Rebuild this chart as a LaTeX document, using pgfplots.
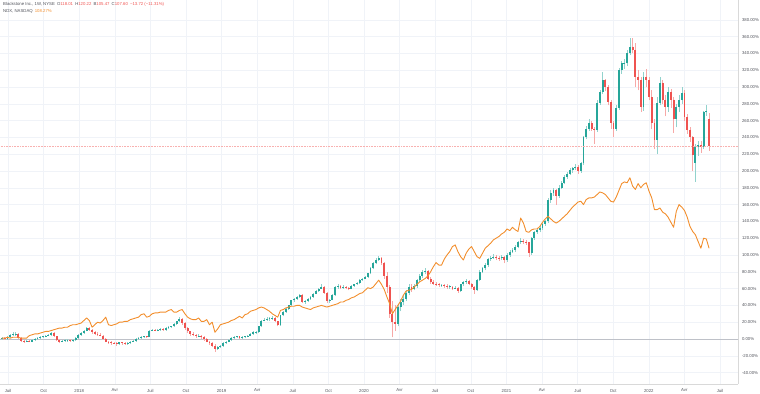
\documentclass[border=0pt]{standalone}
\usepackage{fontspec}
\setmainfont{Liberation Sans}
\usepackage{pgfplots}
\usepackage{pgfplotstable}
\pgfplotsset{compat=1.18}
\definecolor{up}{RGB}{38,166,154}
\definecolor{down}{RGB}{239,83,80}
\definecolor{ndx}{RGB}{242,142,44}
\definecolor{gridc}{RGB}{240,243,248}
\definecolor{labc}{RGB}{80,82,90}
\definecolor{zeroc}{RGB}{190,193,200}

% Blackstone weekly candles (percent vs start) and NDX weekly (percent)
\pgfplotstableread{
o h l c n
0 2 -1 1 1
1 2 -1 0 1
0 3 -1 2 2
2 6 1 5 1
5 8 4 6 2
6 8 4 6.5 2
6 7 0 1 2
1 2 -3 -2 1
-2 -1 -5 -3 1
-3 -1 -4 -2 1
-2 -1 -4 -3 4
-3 0 -4 -1 5
-1 1 -2 0 6
0 2 -1 1 6
1 3 0 2 7
2 4 1 3 8
3 5 2 4 9
4 6 3 5 9
5 8 4 7 10
7 8 2 3 11
3 4 -2 -1 12
-1 0 -5 -3 13
-3 -1 -4 -2 13
-2 0 -3 -1.5 14
-2 0 -3 -1 14
-1 0 -3 -2 16
-2 0 -3 -1 17
-1 2 -2 1 17
1 6 0 5 18
5 8 4 7 19
7 11 6 10 22
10 14 9 13 25
13 14 10 11 22
11 12 6 8 14
8 10 5 6 17
6 8 4 5 20
5 7 3 4 19
4 5 -1 0 22
0 1 -4 -3 26
-3 -2 -6 -4 17
-4 -2 -7 -5 16
-5 -3 -6 -5.5 17
-5 -4 -8 -6 18
-6 -3 -7 -4 20
-4 -3 -7 -5 20
-5 -4 -7 -6 21
-6 -4 -7 -5 21
-5 -2 -6 -3 23
-3 -1 -4 -2 24
-2 1 -3 0 25
0 2 -1 1 26
1 3 0 2 29
2 4 1 3 30
3 4 1 2 26
2 11 2 10 27
10 12 9 11 30
11 12 9 10 31
10 12 9 11 31
11 13 10 12 32
12 13 10 11 32
11 14 10 13 32
13 15 12 14 34
14 16 13 15 35
15 19 14 18 32
18 22 17 21 32
21 26 20 24 34
24 25 17 19 35
19 20 11 13 30
13 14 7 9 26
9 10 4 6 24
6 8 3 5 23
5 6 1 3 23
3 6 2 4 25
4 5 0 2 21
2 3 -2 0 21
0 1 -4 -3 23
-3 -2 -7 -5 17
-5 -4 -10 -8 20
-8 -6 -15 -12 8
-12 -8 -13 -10 12
-10 -7 -11 -8 17
-8 -4 -9 -5 18
-5 -2 -6 -3 19
-3 0 -4 -1 20
-1 2 -2 1 22
1 3 0 2 23
2 4 1 3 25
3 4 0 1 27
1 3 0 2 25
2 4 1 3 29
3 5 2 4 30
4 7 3 6 33
6 9 5 8 34
8 9 6 8.5 35
8 16 7 15 37
15 23 14 22 38
22 25 21 23 37
23 26 22 24 35
24 26 22 24.5 33
24 27 23 25 30
25 26 20 21 28
21 22 15 17 26
17 29 16 28 34
28 33 27 32 35
32 37 31 36 37
36 41 35 40 38
40 47 39 46 39
46 49 44 48 39
48 51 47 50 40
50 54 49 52 40
52 53 43 44 38
44 47 42 45 37
45 49 44 48 36
48 51 47 50 35
50 55 49 54 37
54 58 53 57 38
57 61 56 60 39
60 66 59 62 40
62 63 54 55 39
55 56 43 45 38
45 48 43 47 39
47 53 46 52 40
52 63 51 62 41
62 65 60 63 42
63 64 59 61 44
61 64 60 62 44
62 63 59 61 46
61 62 58 60 47
60 64 59 63 49
63 66 62 65 50
65 68 64 67 52
67 71 66 70 54
70 73 69 72 55
72 75 71 74 58
74 79 73 78 61
78 86 77 84 60
84 92 83 90 62
90 96 89 94 66
94 99 93 96 70
96 98 88 90 65
90 92 72 75 59
75 80 55 62 50
62 64 25 30 42
30 45 2 20 30
20 40 10 18 35
18 42 15 38 40
38 48 33 44 45
44 52 40 48 52
48 58 45 55 57
55 66 52 62 58
62 65 56 60 59
60 66 58 63 62
63 72 61 70 65
70 77 68 75 68
75 82 73 80 70
80 84 77 81 72
81 82 70 72 75
72 74 66 68 80
68 70 64 66 86
66 68 63 65 91
65 67 62 64 88
64 66 62 64.5 88
64 66 61 63 95
63 65 60 62 100
62 64 60 62.5 104
62 63 58 60 110
60 63 59 61 112
61 62 55 57 104
57 66 56 65 98
65 69 63 68 94
68 71 66 69 102
69 70 64 66 107
66 67 60 62 110
62 63 54 58 104
58 72 57 70 98
70 82 69 80 96
80 86 78 84 102
84 90 82 88 108
88 97 86 95 111
95 99 93 97 114
97 101 95 98 118
98 100 94 97 120
97 99 93 96 122
96 100 94 98 125
98 99 90 94 127
94 102 92 100 131
100 106 98 104 129
104 108 102 106 133
106 112 104 110 130
110 117 108 115 128
115 120 113 117 144
117 119 113 116 138
116 118 112 115 128
115 116 98 102 127
102 122 100 120 130
120 129 118 127 131
127 132 125 130 131
130 134 127 132 134
132 139 130 137 139
137 142 135 140 143
140 168 138 165 146
165 177 162 174 143
174 180 170 177 140
177 178 160 170 138
170 183 168 180 140
180 188 178 186 143
186 195 184 193 146
193 199 191 197 149
197 203 195 201 153
201 205 198 203 157
203 208 201 205 160
205 207 197 200 163
200 211 198 209 164
209 242 207 240 160
240 253 238 250 166
250 262 248 257 168
257 259 248 250 168
250 252 232 249 169
249 284 247 281 172
281 297 279 294 175
294 318 292 308 174
308 310 295 300 172
300 302 278 282 168
282 284 250 257 164
257 260 240 250 163
250 278 248 275 169
275 323 273 320 177
320 331 316 328 185
328 333 322 329 187
328 344 325 340 186
340 358 338 348 192
348 358 340 344 182
344 352 300 312 178
312 320 296 308 185
308 312 270 276 180
276 318 272 312 184
312 322 300 308 186
308 312 284 288 176
288 296 250 257 168
257 262 226 237 154
237 288 220 281 154
281 312 278 305 156
305 308 280 285 151
285 290 265 276 149
276 300 270 294 145
294 298 275 285 139
285 288 245 262 133
262 280 252 276 152
276 290 270 285 160
285 300 280 293 157
293 296 260 264 153
264 268 244 249 145
249 252 235 240 134
240 242 200 219 128
210 232 187 228 124
228 236 218 231 116
231 236 222 229 108
229 272 226 270 120
270 278 266 272 119
262 269 224 230 108
}\bx

\begin{document}
\begin{tikzpicture}
\begin{axis}[
  at={(0,0)}, anchor=south west, scale only axis,
  width=738bp, height=384bp,
  xmin=-0.73, xmax=269.6, ymin=-53.6, ymax=403.6,
  axis x line*=bottom, axis y line*=right,
  axis line style={draw=gray!30, line width=0.4pt},
  xtick={2.2,15.24,28.28,41.32,54.36,67.4,80.44,93.48,106.52,119.56,132.6,145.64,158.68,171.72,184.76,197.8,210.84,223.88,236.92,249.96,263.0},
  xticklabels={Juil,Oct,2018,Avr,Juil,Oct,2019,Avr,Juil,Oct,2020,Avr,Juil,Oct,2021,Avr,Juil,Oct,2022,Avr,Juil},
  ytick={-40,-20,...,380},
  yticklabel={\pgfmathprintnumber[fixed,fixed zerofill,precision=2,assume math mode=true,1000 sep={}]{\tick}\%},
  major tick length=0pt,
  grid=major, major grid style={draw=gridc, line width=0.5pt},
  tick label style={font=\fontsize{4.3}{5}\selectfont, text=labc},
  yticklabel style={anchor=west, xshift=0.5bp},
  xticklabel style={yshift=-1.5bp},
  colormap={candle}{rgb255=(239,83,80) rgb255=(38,166,154)},
  point meta min=-1, point meta max=1,
  clip=true,
]
\addplot[zeroc, line width=0.5pt] coordinates {(-1,0) (270,0)};
\addplot[line width=0.5pt,
  point meta={ifthenelse(\thisrow{c}>\thisrow{o},1,-1)},
  quiver={u=0, v=\thisrow{h}-\thisrow{l}, colored=mapped color!50}]
  table[x expr=\coordindex, y=l]{\bx};
\addplot[line width=1.9pt,
  point meta={ifthenelse(\thisrow{c}>\thisrow{o},1,-1)},
  quiver={u=0, v=\thisrow{c}-\thisrow{o}, colored}]
  table[x expr=\coordindex, y=o]{\bx};
\addplot[ndx, line width=0.9pt, line join=round] table[x expr=\coordindex, y=n]{\bx};
\addplot[down!45, line width=0.4pt, dash pattern=on 0.6pt off 1pt] coordinates {(-1,229.8) (270,229.8)};
\node[anchor=north west, inner sep=0pt, font=\fontsize{4.3}{5}\selectfont, text=labc, align=left]
  at (rel axis cs:0,1) [xshift=3bp, yshift=-2.5bp]
  {Blackstone Inc., 1W, NYSE\enspace O{\color{down}118.01}\enspace H{\color{down}120.22}\enspace B{\color{down}105.47}\enspace C{\color{down}107.60}\enspace{\color{down}−13.72 (−11.31\%)}\\[1.6bp]
   NDX, NASDAQ\enspace{\color{ndx}108.27\%}};
\node[anchor=north west, inner sep=0pt, font=\fontsize{4.3}{5}\selectfont, text=labc]
  at (rel axis cs:1,1) [xshift=4bp, yshift=-3bp] {USD};
\end{axis}
\pgfresetboundingbox
\useasboundingbox (0,-10bp) rectangle (760bp,384bp);
\end{tikzpicture}
\end{document}
